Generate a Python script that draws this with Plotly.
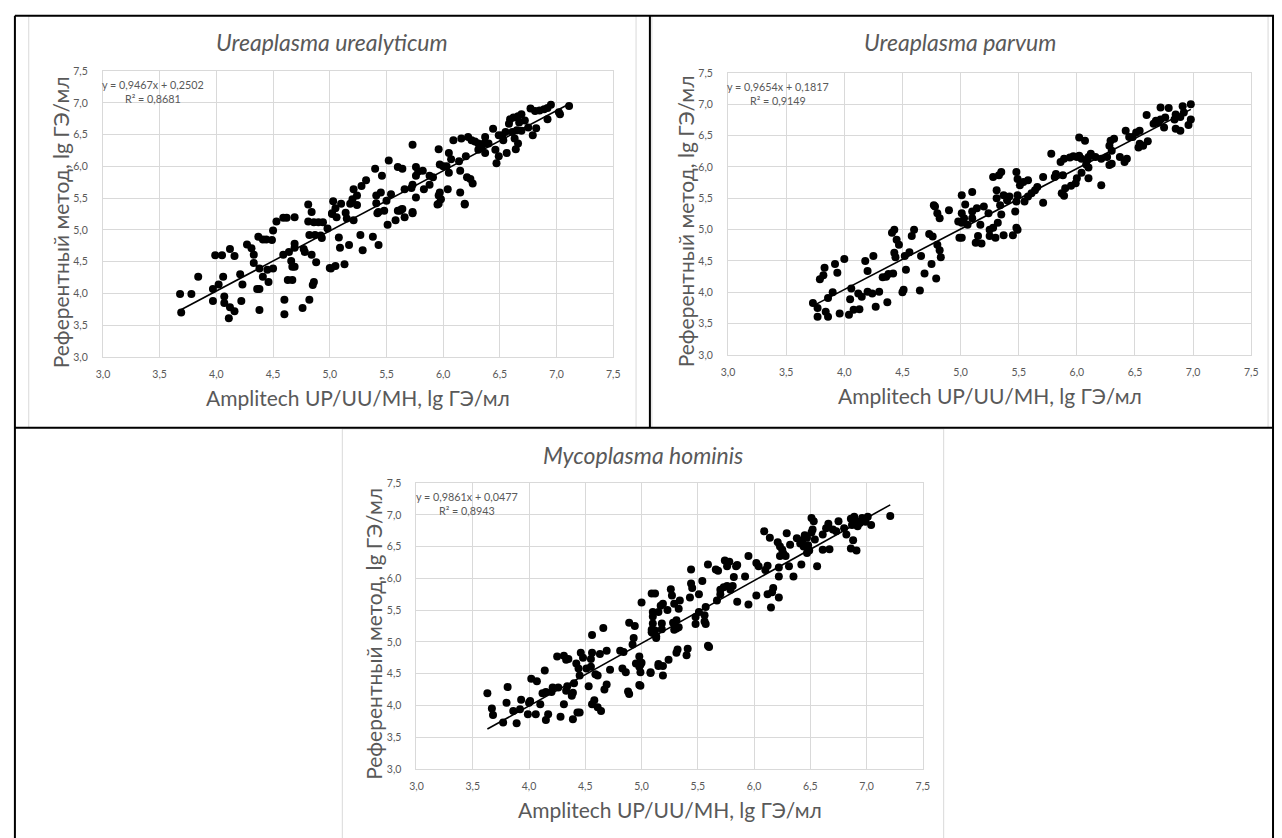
import plotly.graph_objects as go

W, H = 1282, 838

titles = ["Ureaplasma urealyticum", "Ureaplasma parvum", "Mycoplasma hominis"]
x_title = "Amplitech UP/UU/MH, lg ГЭ/мл"
y_title = "Референтный метод, lg ГЭ/мл"
equations = ["y = 0,9467x + 0,2502<br>R² = 0,8681",
             "y = 0,9654x + 0,1817<br>R² = 0,9149",
             "y = 0,9861x + 0,0477<br>R² = 0,8943"]
slopes = [0.9467, 0.9654, 0.9861]
intercepts = [0.2502, 0.1817, 0.0477]
tick_vals = [3.0, 3.5, 4.0, 4.5, 5.0, 5.5, 6.0, 6.5, 7.0, 7.5]

uu_pts = [
 (3.68,3.99),(3.69,3.70),(3.78,3.99),(3.84,4.26),(3.97,4.07),(3.97,3.88),(3.99,4.60),(4.05,4.60),
 (4.02,4.14),(4.06,4.26),(4.07,3.95),(4.07,3.85),(4.12,3.78),(4.16,3.72),(4.11,3.61),(4.12,4.70),
 (4.16,4.59),(4.21,4.30),(4.22,3.88),(4.23,4.14),(4.27,4.77),(4.31,4.71),(4.33,4.61),(4.33,4.48),
 (4.36,4.07),(4.38,4.07),(4.38,3.74),(4.37,4.89),(4.41,4.85),(4.44,4.85),(4.49,4.84),(4.38,4.39),
 (4.41,4.26),(4.45,4.37),(4.46,4.18),(4.50,4.39),(4.50,4.99),(4.53,5.13),(4.59,5.19),(4.62,5.19),
 (4.69,5.20),(4.59,4.61),(4.64,4.65),(4.69,4.78),(4.69,4.72),(4.66,4.51),(4.67,4.42),(4.69,4.42),
 (4.63,4.21),(4.67,4.21),(4.60,3.90),(4.60,3.67),(4.76,3.77),(4.82,3.90),(4.77,4.70),(4.78,4.65),
 (4.84,4.61),(4.88,4.49),(4.86,4.18),(4.85,4.13),(4.82,4.92),(4.87,4.92),(4.92,4.91),(4.93,4.87),
 (4.81,5.13),(4.86,5.12),(4.90,5.12),(4.94,5.12),(4.84,5.28),(4.81,5.40),(4.98,5.02),(5.00,4.40),
 (5.01,4.39),(5.05,4.43),(5.13,4.46),(5.08,4.88),(5.09,4.72),(5.17,4.76),(5.27,4.92),(5.29,4.68),
 (5.38,4.89),(5.43,4.76),(5.51,5.08),(5.58,5.15),(5.62,5.30),(5.66,5.20),(5.73,5.26),(5.63,5.32),
 (5.95,5.40),(6.19,5.40),(5.42,5.26),(5.21,5.15),(5.15,5.18),(5.02,5.26),(5.06,5.20),(5.24,5.39),
 (5.41,5.42),
 (7.11,6.95),(7.02,6.85),(7.03,6.82),(6.95,6.97),(6.92,6.92),(6.89,6.90),(6.85,6.88),(6.81,6.87),
 (6.77,6.91),(6.82,6.60),(6.79,6.49),(6.92,6.74),(6.69,6.82),(6.66,6.79),(6.62,6.77),(6.59,6.74),
 (6.58,6.67),(6.67,6.69),(6.72,6.72),(6.75,6.61),(6.69,6.56),(6.65,6.57),(6.61,6.54),(6.55,6.54),
 (6.52,6.49),(6.49,6.49),(6.53,6.41),(6.63,6.44),(6.66,6.36),(6.64,6.27),(6.56,6.21),(6.49,6.16),
 (6.47,6.05),(6.44,6.59),(6.40,6.36),(6.37,6.46),(6.36,6.36),(6.34,6.31),(6.31,6.36),(6.28,6.39),
 (6.25,6.41),(6.22,6.46),(6.16,6.44),(6.09,6.41),(6.31,6.26),(6.37,6.21),(6.46,6.26),(6.20,6.16),
 (6.14,6.08),(6.07,6.11),(6.05,6.21),(6.00,6.00),(5.97,6.03),(5.96,6.27),(6.03,6.00),(6.05,5.90),
 (5.91,5.83),(5.88,5.85),(5.82,5.93),(5.76,5.99),(5.73,6.34),(6.15,5.93),(6.21,5.83),(6.24,5.80),
 (6.26,5.73),(6.19,5.41),(6.15,5.59),(5.97,5.59),(5.98,5.48),(5.96,5.41),(5.96,5.54),(6.04,5.64),
 (5.78,5.92),(5.76,5.85),(5.72,5.66),(5.73,5.71),(5.66,5.64),(5.64,5.96),(5.60,5.99),(5.52,6.09),
 (5.46,5.85),(5.40,5.96),(5.32,5.78),(5.28,5.69),(5.21,5.64),(5.24,5.54),(5.20,5.48),(5.18,5.41),
 (5.10,5.41),(5.03,5.45),(5.05,5.34),(5.14,5.27),(5.02,5.25),(5.41,5.54),(5.45,5.59),(5.50,5.46),
 (5.54,5.56),(5.48,5.30),(5.60,5.30),(5.64,5.33),(5.73,5.28),(5.43,5.28),(5.76,5.51),(5.83,5.64),
 (5.88,5.71),
]

up_pts = [
 (3.73,3.83),(3.77,3.75),(3.77,3.61),(3.79,4.21),(3.82,4.27),(3.83,4.39),(3.84,3.69),(3.86,3.61),
 (3.86,3.91),(3.90,4.00),(3.92,4.45),(3.94,4.31),(3.96,3.66),(4.00,4.53),(4.04,3.64),(4.05,3.89),
 (4.06,4.06),(4.08,3.72),(4.12,3.98),(4.13,3.73),(4.15,3.93),(4.18,4.50),(4.20,4.34),(4.20,4.01),
 (4.24,3.98),(4.25,4.58),(4.27,3.77),(4.30,4.01),(4.33,4.24),(4.36,4.25),(4.38,4.29),(4.42,4.30),
 (4.37,3.84),(4.41,4.95),(4.43,5.00),(4.45,4.84),(4.47,4.76),(4.43,4.63),(4.44,4.56),(4.50,4.00),
 (4.51,4.04),(4.53,4.36),(4.52,4.58),(4.56,4.64),(4.58,4.90),(4.60,5.00),(4.65,4.03),(4.66,4.58),
 (4.69,4.30),(4.73,4.93),(4.76,4.89),(4.75,4.45),(4.79,4.22),(4.80,4.76),(4.82,4.67),(4.83,4.56),
 (4.78,5.37),(4.80,5.26),(4.82,5.18),(4.90,5.31),(4.98,5.13),(4.99,4.87),(5.01,5.26),(4.77,5.39),
 (6.98,7.00),(6.91,6.97),(6.92,6.87),(6.98,6.76),(6.96,6.67),(6.89,6.80),(6.85,6.84),(6.84,6.76),
 (6.85,6.61),(6.89,6.58),(6.79,6.94),(6.72,6.95),(6.76,6.79),(6.72,6.76),(6.68,6.74),(6.66,6.69),
 (6.70,6.71),(6.75,6.63),(6.60,6.83),(6.51,6.55),(6.54,6.58),(6.42,6.58),(6.45,6.48),(6.48,6.48),
 (6.54,6.37),(6.57,6.34),(6.61,6.41),(6.53,6.31),(6.32,6.45),(6.29,6.42),(6.28,6.34),(6.30,6.26),
 (6.26,6.16),(6.37,6.16),(6.43,6.13),(6.41,6.08),(6.30,6.05),(6.28,6.03),(6.21,5.71),(6.21,6.13),
 (6.16,6.16),(6.12,6.21),(6.10,6.16),(6.09,6.11),(6.08,6.04),(6.10,5.99),(6.07,6.42),(6.02,6.47),
 (6.02,6.18),(6.04,6.13),(6.00,6.16),(5.97,6.17),(5.94,6.15),(5.89,6.13),(5.86,6.08),(6.04,5.91),
 (6.10,5.82),(6.00,5.82),(5.99,5.74),(5.95,5.70),(5.90,5.66),(5.89,5.54),(5.87,5.58),(5.82,5.89),
 (5.81,5.84),(5.88,5.87),(5.78,6.21),(5.71,5.84),(5.71,5.43),(5.66,5.68),(5.64,5.63),(5.61,5.58),
 (5.58,5.53),(5.55,5.45),(5.58,5.79),(5.54,5.76),(5.51,5.71),(5.48,5.92),(5.49,5.81),(5.49,5.55),
 (5.48,5.45),(5.47,5.29),(5.49,5.00),(5.48,5.03),(5.45,4.91),(5.42,5.53),(5.40,5.47),(5.37,5.55),
 (5.34,5.39),(5.31,5.63),(5.31,5.50),(5.35,5.92),(5.28,5.84),(5.33,5.87),(5.35,5.24),(5.32,5.11),
 (5.28,5.03),(5.25,5.00),(5.25,4.90),(5.30,4.87),(5.37,4.91),(5.15,4.90),(5.18,4.78),(5.13,4.79),
 (5.17,5.08),(5.24,5.26),(5.20,5.37),(5.14,5.34),(5.10,5.29),(5.10,5.18),(5.03,5.18),(5.04,5.40),
 (5.10,5.60),(5.01,5.55),(5.01,5.11),(5.01,4.87),(5.06,5.08),
]

mh_pts = [
 (3.63,4.19),(3.67,3.95),(3.68,3.85),(3.77,3.73),(3.80,4.04),(3.81,4.29),(3.86,3.91),(3.89,3.72),
 (3.92,3.94),(3.93,4.09),(3.99,3.86),(4.00,4.04),(4.01,4.07),(4.02,4.42),(4.07,4.38),(4.06,3.86),
 (4.10,4.02),(4.14,4.55),(4.12,4.19),(4.15,4.21),(4.15,3.77),(4.17,3.86),(4.20,4.21),(4.21,4.28),
 (4.25,4.77),(4.26,4.28),(4.28,3.82),(4.31,4.78),(4.33,4.72),(4.35,4.73),(4.31,4.02),(4.33,4.23),
 (4.34,4.30),(4.39,3.78),(4.40,4.35),(4.38,4.15),(4.39,4.20),(4.43,3.89),(4.45,3.89),(4.42,4.66),
 (4.44,4.58),(4.46,4.83),(4.48,4.75),(4.45,4.47),(4.51,4.58),(4.53,4.30),(4.55,4.73),(4.56,4.83),
 (4.56,5.11),(4.55,4.61),(4.56,4.02),(4.58,4.08),(4.61,3.97),(4.61,4.47),(4.64,3.91),(4.59,4.49),
 (4.63,4.81),(4.66,5.22),(4.67,4.25),(4.69,4.86),(4.72,4.56),(4.69,4.33),(4.81,4.86),(4.83,4.58),
 (4.84,4.84),(4.86,4.52),(4.88,4.22),(4.89,4.18),(4.89,5.30),(4.94,5.25),(4.92,4.96),(4.93,5.06),
 (4.95,4.66),(4.98,4.61),(4.98,4.77),(4.99,4.64),(4.99,4.52),(4.98,4.32),(5.08,4.52),(5.09,5.19),
 (5.10,5.14),(5.13,5.09),(5.15,4.65),(5.10,5.40),
 (7.21,6.98),(7.04,6.84),(7.01,6.97),(6.99,6.89),(6.96,6.95),(6.92,6.89),(6.89,6.97),(6.88,6.92),
 (6.87,6.84),(6.92,6.82),(6.94,6.87),(6.86,6.94),(6.91,6.44),(6.86,6.47),(6.88,6.60),(6.82,6.69),
 (6.80,6.79),(6.75,6.90),(6.73,6.74),(6.70,6.77),(6.66,6.86),(6.64,6.79),(6.61,6.69),(6.67,6.46),
 (6.61,6.45),(6.56,6.19),(6.53,6.90),(6.51,6.95),(6.52,6.77),(6.51,6.72),(6.54,6.61),(6.47,6.64),
 (6.45,6.68),(6.43,6.60),(6.41,6.55),(6.44,6.50),(6.48,6.52),(6.47,6.40),(6.49,6.44),(6.42,6.22),
 (6.38,6.63),(6.32,6.53),(6.29,6.71),(6.21,6.57),(6.23,6.50),(6.25,6.45),(6.26,6.39),(6.28,6.35),
 (6.23,6.35),(6.31,6.19),(6.35,6.03),(6.14,6.64),(6.09,6.74),(6.12,6.20),(6.10,6.13),(6.04,6.19),
 (6.02,6.24),(5.95,6.35),(6.22,6.17),(6.22,6.03),(6.17,5.85),(6.16,5.78),(6.12,5.75),(6.15,5.54),
 (6.22,5.70),(6.02,5.73),(5.95,5.59),(5.85,5.63),(5.92,6.03),(5.84,6.19),(5.82,6.02),(5.85,6.21),
 (5.78,6.26),(5.74,6.28),(5.76,6.19),(5.81,5.88),(5.79,5.82),(5.76,5.88),(5.73,5.86),(5.70,5.82),
 (5.70,5.75),(5.67,5.65),(5.66,6.14),(5.68,6.12),(5.59,6.22),(5.54,5.96),(5.44,6.14),(5.44,5.92),
 (5.45,5.85),(5.51,5.75),(5.43,5.70),(5.34,5.65),(5.27,5.73),(5.29,5.60),(5.26,5.83),(5.33,5.52),
 (5.31,5.34),(5.28,5.30),(5.23,5.50),(5.19,5.60),(5.17,5.57),(5.15,5.47),(5.12,5.76),(5.09,5.76),
 (5.10,5.47),(5.18,5.29),(5.10,5.29),(5.48,5.39),(5.56,5.42),(5.57,5.55),(5.51,5.47),(5.00,5.62),
 (5.59,4.94),(5.60,4.92),(5.48,5.28),(5.56,5.32),(5.57,5.28),(5.41,4.89),(5.40,4.79),(5.32,4.88),
 (5.31,4.83),(5.24,4.72),(5.19,4.62),(5.15,4.62),(5.19,4.47),(5.08,4.51),(5.31,5.21),(5.29,5.19),
 (5.33,5.23),(5.12,5.18),(5.13,5.06),(5.09,5.15),(5.18,5.20),(5.00,4.67),(4.99,4.31),
]

series = [uu_pts, up_pts, mh_pts]

# boxes in window pixels: (left, right, top, bottom)
plot_px = [(97, 613, 66, 356), (729, 1258, 68, 354), (414, 926, 484, 774)]
chart_px = [(22, 636, 10, 428), (652, 1275, 10, 428), (339, 947, 429, 845)]

def px(x):
    return x / W

def py(y):
    return 1 - y / H

GRAY = "#595959"
GRID = "#d9d9d9"
FONT = "Lato"

fig = go.Figure()
layout = dict(width=W, height=H, margin=dict(l=0, r=0, t=0, b=0),
              paper_bgcolor="white", plot_bgcolor="white",
              showlegend=False, separators=", ",
              font=dict(family=FONT, color=GRAY))
annotations = []
shapes = []

for i, pts in enumerate(series):
    k = "" if i == 0 else str(i + 1)
    xs = [p[0] for p in pts]
    ys = [p[1] for p in pts]
    fig.add_trace(go.Scatter(x=xs, y=ys, mode="markers", xaxis="x" + k, yaxis="y" + k,
                             marker=dict(color="black", size=8, line=dict(width=0)),
                             hoverinfo="skip"))
    x0, x1 = min(xs), max(xs)
    fig.add_trace(go.Scatter(x=[x0, x1], y=[slopes[i] * x0 + intercepts[i], slopes[i] * x1 + intercepts[i]],
                             mode="lines", xaxis="x" + k, yaxis="y" + k,
                             line=dict(color="black", width=1.6), hoverinfo="skip"))
    l, r, t, b = plot_px[i]
    ax = dict(range=[3.0, 7.5], tickvals=tick_vals, tickformat=".1f",
              showgrid=True, gridcolor=GRID, gridwidth=1, zeroline=False,
              showline=True, linecolor=GRID, linewidth=1, mirror=True,
              ticks="", tickfont=dict(family=FONT, size=10.5, color=GRAY), fixedrange=True)
    layout["xaxis" + k] = dict(ax, domain=[px(l), px(r)], anchor="y" + k, ticklabelstandoff=7)
    layout["yaxis" + k] = dict(ax, domain=[py(b), py(t)], anchor="x" + k, ticklabelstandoff=12)

    cl, cr, ct, cb = chart_px[i]
    shapes.append(dict(type="rect", xref="paper", yref="paper", x0=px(cl), x1=px(cr),
                       y0=py(cb), y1=py(ct), line=dict(color=GRID, width=1), layer="below"))
    annotations.append(dict(text="<i>" + titles[i] + "</i>", xref="paper", yref="paper",
                            x=px((cl + cr) / 2), y=py(ct + 27), showarrow=False,
                            xanchor="center", yanchor="middle",
                            font=dict(family=FONT, size=23, color=GRAY)))
    annotations.append(dict(text=x_title, xref="paper", yref="paper",
                            x=px((l + r) / 2), y=py(b + 41), showarrow=False,
                            xanchor="center", yanchor="middle",
                            font=dict(family=FONT, size=21, color=GRAY)))
    annotations.append(dict(text=y_title, xref="paper", yref="paper", textangle=-90,
                            x=px(l - 43), y=py((t + b) / 2 + 8), showarrow=False,
                            xanchor="center", yanchor="middle",
                            font=dict(family=FONT, size=21, color=GRAY)))
    annotations.append(dict(text=equations[i], xref="paper", yref="paper", align="center",
                            x=px(l + 51), y=py(t + 21), showarrow=False,
                            xanchor="center", yanchor="middle",
                            font=dict(family=FONT, size=10.8, color=GRAY)))

# table borders (black)
def hline(y, x0, x1):
    shapes.append(dict(type="line", xref="paper", yref="paper", x0=px(x0), x1=px(x1),
                       y0=py(y), y1=py(y), line=dict(color="black", width=2)))

def vline(x, y0, y1):
    shapes.append(dict(type="line", xref="paper", yref="paper", x0=px(x), x1=px(x),
                       y0=py(y0), y1=py(y1), line=dict(color="black", width=2)))

hline(10, 8, 1281)
hline(428, 8, 1281)
vline(8, 10, 845)
vline(650, 10, 428)
vline(1280, 10, 845)

layout["annotations"] = annotations
layout["shapes"] = shapes
fig.update_layout(**layout)
fig.write_html("out.html", config={"displayModeBar": False, "staticPlot": True},
               post_script="document.body.style.margin='0';document.body.style.overflow='hidden';")
